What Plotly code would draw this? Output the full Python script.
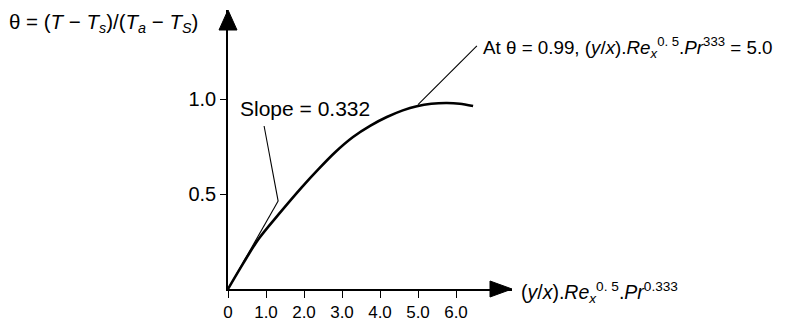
import plotly.graph_objects as go

# --- data ---
curve_x = [0, 0.4, 0.8, 1.32, 1.94, 2.4, 2.82, 3.29, 3.75, 4.18, 4.6, 4.97, 5.35, 5.76, 6.1, 6.45]
curve_y = [0, 0.135, 0.262, 0.39, 0.535, 0.635, 0.72, 0.80, 0.86, 0.905, 0.94, 0.962, 0.975, 0.979, 0.975, 0.963]
tangent_x = [0, 1.32]
tangent_y = [0, 0.463]
slope_leader_x = [1.32, 0.95]
slope_leader_y = [0.463, 0.858]
at_leader_x = [5.0, 6.55]
at_leader_y = [0.97, 1.28]
x_ticks = [0, 1, 2, 3, 4, 5, 6]
x_ticklabels = ["0", "1.0", "2.0", "3.0", "4.0", "5.0", "6.0"]
y_ticks = [0.5, 1.0]
y_ticklabels = ["0.5", "1.0"]

FONT = "Liberation Sans, Arial, sans-serif"
OFF = 8  # page body margin
W, H = 797 - OFF, 326 - OFF
# plot area in page pixels: x 228..512, y 10..289
PX0, PX1, PY0, PY1 = 228, 512, 10, 289
L, R, T, B = PX0 - OFF, W - (PX1 - OFF), PY0 - OFF, H - (PY1 - OFF)
pw, ph = PX1 - PX0, PY1 - PY0
XMAX = pw / 38.0
YMAX = ph / 190.0


def px(X):
    return (X - PX0) / pw


def py(Y):
    return (PY1 - Y) / ph


fig = go.Figure()
fig.add_trace(go.Scatter(x=curve_x, y=curve_y, mode="lines",
                         line=dict(color="black", width=2.6, shape="spline", smoothing=0.8), hoverinfo="skip"))
fig.add_trace(go.Scatter(x=tangent_x, y=tangent_y, mode="lines", line=dict(color="black", width=1.1), hoverinfo="skip"))
fig.add_trace(go.Scatter(x=slope_leader_x, y=slope_leader_y, mode="lines", line=dict(color="black", width=1.1), hoverinfo="skip"))
fig.add_trace(go.Scatter(x=at_leader_x, y=at_leader_y, mode="lines", line=dict(color="black", width=1.1), hoverinfo="skip"))

# arrowheads
fig.add_shape(type="path", xref="paper", yref="paper",
              path=f"M {px(228)} {py(10)} L {px(219)} {py(30)} L {px(237)} {py(30)} Z",
              fillcolor="black", line=dict(color="black", width=1))
fig.add_shape(type="path", xref="paper", yref="paper",
              path=f"M {px(512)} {py(289)} L {px(490)} {py(281)} L {px(490)} {py(297)} Z",
              fillcolor="black", line=dict(color="black", width=1))

annos = [
    dict(text="θ = (<i>T</i> − <i>T<sub>s</sub></i>)/(<i>T<sub>a</sub></i> − <i>T<sub>S</sub></i>)",
         x=px(7), y=py(23), xanchor="left", yanchor="middle", font=dict(size=20.5)),
    dict(text="(<i>y</i>/<i>x</i>).<i>Re<sub>x</sub></i><sup>0. 5</sup>.<i>Pr</i><sup>0.333</sup>",
         x=px(519), y=py(292), xanchor="left", yanchor="middle", font=dict(size=19.5)),
    dict(text="At θ = 0.99, (<i>y</i>/<i>x</i>).<i>Re<sub>x</sub></i><sup>0. 5</sup>.<i>Pr</i><sup>333</sup> = 5.0",
         x=px(481), y=py(47), xanchor="left", yanchor="middle", font=dict(size=18.8)),
    dict(text="Slope = 0.332", x=px(238), y=py(108), xanchor="left", yanchor="middle", font=dict(size=21)),
]
for a in annos:
    a.update(xref="paper", yref="paper", showarrow=False)
    a["font"].update(family=FONT, color="black")
    fig.add_annotation(**a)

fig.update_layout(
    width=W, height=H, margin=dict(l=L, r=R, t=T, b=B, pad=0),
    paper_bgcolor="white", plot_bgcolor="white", showlegend=False,
    font=dict(family=FONT, color="black"),
    xaxis=dict(range=[0, XMAX], showgrid=False, zeroline=False, showline=True, linecolor="black", linewidth=1.5,
               ticks="outside", ticklen=7, tickcolor="black", tickwidth=1.3,
               tickvals=x_ticks, ticktext=x_ticklabels, tickfont=dict(size=17, family=FONT, color="black")),
    yaxis=dict(range=[0, YMAX], showgrid=False, zeroline=False, showline=True, linecolor="black", linewidth=1.5,
               ticks="outside", ticklen=6, tickcolor="black", tickwidth=1.3,
               tickvals=y_ticks, ticktext=y_ticklabels, tickfont=dict(size=20, family=FONT, color="black")),
)
fig.write_html("out.html")
